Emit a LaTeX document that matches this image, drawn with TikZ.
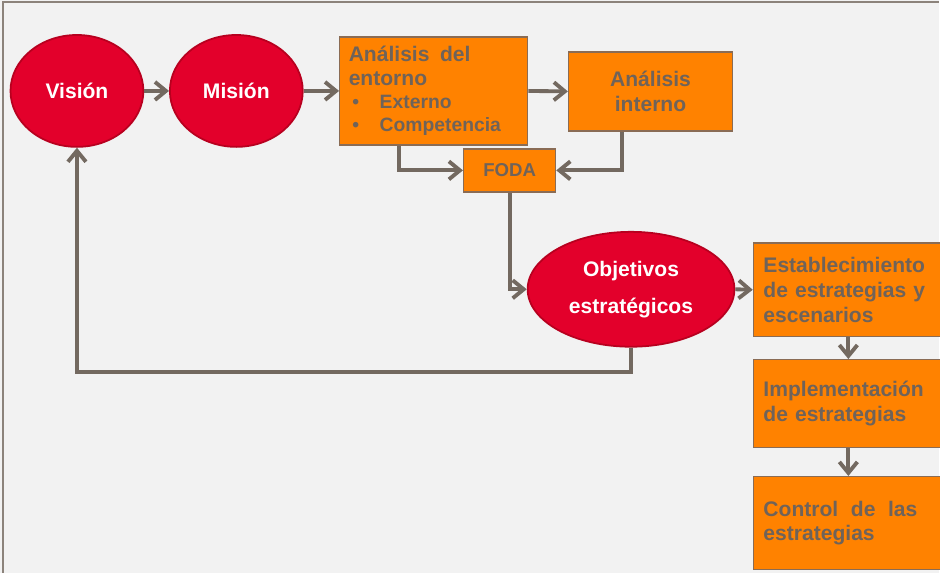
\documentclass[tikz,border=0pt]{standalone}
\usepackage{fontspec}
\setmainfont{Liberation Sans}
\usepackage{xcolor}
\usepackage{tikz}
\usetikzlibrary{shapes.geometric, arrows.meta, positioning}
\definecolor{bggray}{HTML}{F2F2F2}
\definecolor{framegray}{HTML}{8C837B}
\definecolor{goalred}{HTML}{E3002B}
\definecolor{goalline}{HTML}{B8001F}
\definecolor{boxorange}{HTML}{FF8200}
\definecolor{boxline}{HTML}{8A6C55}
\definecolor{textgray}{HTML}{6F635A}
\definecolor{linkgray}{HTML}{736960}
\tikzset{
    goal/.style={ellipse, draw=goalline, line width=1pt, fill=goalred, text=white, inner sep=0pt, align=center, font=\bfseries\fontsize{12}{21}\selectfont},
    stage/.style={rectangle, draw=boxline, line width=0.8pt, fill=boxorange, text=textgray, inner sep=0pt, font=\bfseries\fontsize{12}{14.2}\selectfont},
    arrow/.style={-{Straight Barb[length=2.2mm,width=3.6mm]}, draw=linkgray, line width=2.2pt}
}

\begin{document}
\begin{tikzpicture}[x=0.02cm, y=-0.02cm]
            \fill[bggray] (0,0) rectangle (940,573);
            \draw[framegray, line width=0.8pt] (3,573) -- (3,2) -- (940,2);
            \useasboundingbox (0,0) rectangle (940,573);

            \node (vision) [goal, minimum width=2.66cm, minimum height=2.24cm] at (77,91) {Visión};
            \node (mision) [goal, minimum width=2.66cm, minimum height=2.24cm] at (236.5,91) {Misión};
            \node (entorno) [stage, minimum width=3.76cm, minimum height=2.16cm, text width=3.4cm, align=left, font=\bfseries\fontsize{12}{13.5}\selectfont] at (434,91)
                {Análisis~\,del\\entorno\\
                 {\fontsize{11}{13}\selectfont\makebox[0.62cm][l]{\hspace{2pt}\textbullet}Externo\\
                 \makebox[0.62cm][l]{\hspace{2pt}\textbullet}Competencia}};
            \node (interno) [stage, minimum width=3.28cm, minimum height=1.58cm, align=center] at (651,91.5) {Análisis\\interno};
            \node (foda) [stage, minimum width=1.84cm, minimum height=0.86cm, font=\bfseries\fontsize{10.6}{12}\selectfont] at (510,170.5) {FODA};
            \node (objetivos) [goal, minimum width=4.14cm, minimum height=2.3cm] at (631.5,289.5) {Objetivos\\estratégicos};
            \node (estab) [stage, minimum width=3.8cm, minimum height=1.88cm, text width=3.4cm, align=left] at (849,290) {Establecimiento\\de estrategias y\\escenarios};
            \node (implem) [stage, minimum width=3.8cm, minimum height=1.76cm, text width=3.4cm, align=left] at (849,404) {Implementación\\de estrategias};
            \node (control) [stage, minimum width=3.8cm, minimum height=1.86cm, text width=3.4cm, align=left] at (849,523.5) {\makebox[3.08cm][l]{Control\hfill de\hfill las}\\estrategias};

            \draw[arrow] (vision.east) -- (mision.west);
            \draw[arrow] (mision.east) -- (entorno.west);
            \draw[arrow] (entorno.east) -- (interno.west);
            \draw[arrow] (entorno.south west) ++(60,0) |- (foda.west);
            \draw[arrow] (interno.south west) ++(54,0) |- (foda.east);
            \draw[arrow] (foda.south) |- (objetivos.west);
            \draw[arrow] (objetivos.east) -- (estab.west);
            \draw[arrow] (estab) -- (implem);
            \draw[arrow] (implem) -- (control);
            \draw[arrow] (objetivos.south) -- ++(0,24) -| (vision.south);
        \end{tikzpicture}
\end{document}
